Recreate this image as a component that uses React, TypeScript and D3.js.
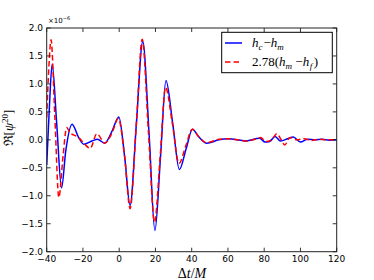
import * as d3 from 'd3'

// h_c - h_m  (units of 1e-6)
const blueT = [-40, -38.5, -37, -34.5, -31.8, -29.5, -26, -22.5, -19.5, -15, -12, -8, -4, -0.2, 3, 6, 9.5, 13, 16.5, 19.7, 22.8, 25.8, 29.5, 33.2, 37, 40.4, 44, 48.3, 55, 60, 70, 77.5, 80.5, 83, 86, 89, 93, 96, 100, 104, 108, 112, 116, 120]
const blueV = [-0.45, 0.6, 1.35, 0.3, -0.86, -0.2, 0.28, 0.05, -0.08, -0.02, 0.01, -0.06, 0.15, 0.41, -0.3, -1.17, 0.3, 1.76, 0.1, -1.62, -0.3, 1.06, 0.3, -0.53, -0.15, 0.19, 0.05, -0.06, 0.0, 0.02, -0.02, 0.03, -0.04, -0.03, 0.06, -0.02, 0.02, 0.05, -0.04, 0.01, 0.0, 0.01, -0.005, 0]

// 2.78 (h_m - h_f)
const redT = [-40, -38.8, -37.6, -35.5, -33.3, -31, -29, -27, -24.5, -22, -19, -16, -12.3, -8, -4, -0.5, 3, 6, 9.5, 12.7, 16.2, 19.5, 22.6, 25.6, 29.3, 33, 36.8, 40.3, 44, 48, 55, 60, 70, 75, 78, 81, 84, 87, 89, 91.3, 94.2, 98, 102, 106, 110, 114, 120]
const redV = [0.4, 1.3, 1.79, 0.4, -1.03, -0.3, 0.22, 0.12, 0.08, 0.03, -0.08, -0.15, 0.11, -0.06, 0.12, 0.38, -0.3, -1.23, 0.3, 1.8, 0.1, -1.47, -0.3, 0.94, 0.3, -0.42, -0.1, 0.19, 0.05, -0.05, 0.01, 0.02, -0.02, 0.01, 0.04, -0.03, 0.0, 0.11, 0.02, -0.09, 0.04, 0.0, 0.02, -0.01, 0.01, 0.0, 0.0]

const xTicks = [-40, -20, 0, 20, 40, 60, 80, 100, 120]
const yTicks = [-2.0, -1.5, -1.0, -0.5, 0.0, 0.5, 1.0, 1.5, 2.0]

const W = 374
const H = 280
const L = 46.7, R = 336.7, T = 28, B = 251.7

const fmtY = (v: number) => (v < 0 ? '\u2212' : '') + Math.abs(v).toFixed(1)
const fmtX = (v: number) => (v < 0 ? '\u2212' : '') + Math.abs(v)

export default function App() {
  const x = d3.scaleLinear().domain([-40, 120]).range([L, R])
  const y = d3.scaleLinear().domain([-2, 2]).range([B, T])

  const line = d3.line<[number, number]>()
    .x(d => x(d[0]))
    .y(d => y(d[1]))
    .curve(d3.curveMonotoneX)

  const blue = line(blueT.map((t, i) => [t, blueV[i]]) as [number, number][]) || ''
  const red = line(redT.map((t, i) => [t, redV[i]]) as [number, number][]) || ''

  const tickLen = 4
  const math = { fontFamily: '"Liberation Serif", serif', fontStyle: 'italic' as const }
  const upright = { fontFamily: '"Liberation Serif", serif', fontStyle: 'normal' as const }

  return (
    <svg width={W} height={H} style={{ position: 'absolute', left: 0, top: 0, background: '#fff' }}
      fontFamily='"DejaVu Sans", sans-serif'>
      <defs>
        <clipPath id="plot">
          <rect x={L} y={T} width={R - L} height={B - T} />
        </clipPath>
      </defs>

      <g clipPath="url(#plot)">
        <path d={blue} fill="none" stroke="#0000ff" strokeWidth={1.5} />
        <path d={red} fill="none" stroke="#ff0000" strokeWidth={1.5} strokeDasharray="5.5,3" />
      </g>

      {/* ticks on all sides, pointing inward */}
      {xTicks.map(t => (
        <g key={'xt' + t}>
          <line x1={x(t)} x2={x(t)} y1={B} y2={B - tickLen} stroke="#000" strokeWidth={0.8} />
          <line x1={x(t)} x2={x(t)} y1={T} y2={T + tickLen} stroke="#000" strokeWidth={0.8} />
          <text x={x(t)} y={262} fontSize={9} textAnchor="middle">{fmtX(t)}</text>
        </g>
      ))}
      {yTicks.map(v => (
        <g key={'yt' + v}>
          <line x1={L} x2={L + tickLen} y1={y(v)} y2={y(v)} stroke="#000" strokeWidth={0.8} />
          <line x1={R} x2={R - tickLen} y1={y(v)} y2={y(v)} stroke="#000" strokeWidth={0.8} />
          <text x={43} y={y(v) + 3} fontSize={9} textAnchor="end">{fmtY(v)}</text>
        </g>
      ))}

      <rect x={L} y={T} width={R - L} height={B - T} fill="none" stroke="#222" strokeWidth={1} />

      {/* offset text */}
      <text x={48} y={23} fontSize={7}>
        {'\u00d710'}<tspan dy={-3} fontSize={5}>{'\u22126'}</tspan>
      </text>

      {/* axis labels */}
      <text x={192} y={277.5} fontSize={14} textAnchor="middle" {...upright}>
        {'\u0394'}<tspan {...math}>t</tspan>/<tspan {...math}>M</tspan>
      </text>
      <text transform="translate(13,128) rotate(-90)" fontSize={13} textAnchor="middle" {...upright}>
        {'\u211c'}[<tspan {...math}>{'\u03c8'}</tspan><tspan dy={-5} fontSize={9}>20</tspan><tspan dy={5}>]</tspan>
      </text>

      {/* legend */}
      <rect x={221.7} y={32.3} width={110.6} height={40.4} fill="#fff" stroke="#000" strokeWidth={1} />
      <line x1={225} x2={242} y1={43} y2={43} stroke="#0000ff" strokeWidth={1.5} />
      <line x1={225} x2={242} y1={62} y2={62} stroke="#ff0000" strokeWidth={1.5} strokeDasharray="5.5,3" />
      <text x={252} y={47} fontSize={13} {...math}>
        h<tspan dy={3} fontSize={9}>c</tspan><tspan dy={-3} dx={1} {...upright}>{'\u2212'}</tspan>h<tspan dy={3} fontSize={9}>m</tspan>
      </text>
      <text x={252} y={66} fontSize={13} {...upright}>
        2.78(<tspan {...math}>h</tspan><tspan dy={3} fontSize={9} {...math}>m</tspan><tspan dy={-3}> {'\u2212'}</tspan><tspan {...math}>h</tspan><tspan dy={3} dx={0.5} fontSize={9} {...math}>f</tspan><tspan dy={-3} dx={1.5}>)</tspan>
      </text>
    </svg>
  )
}
